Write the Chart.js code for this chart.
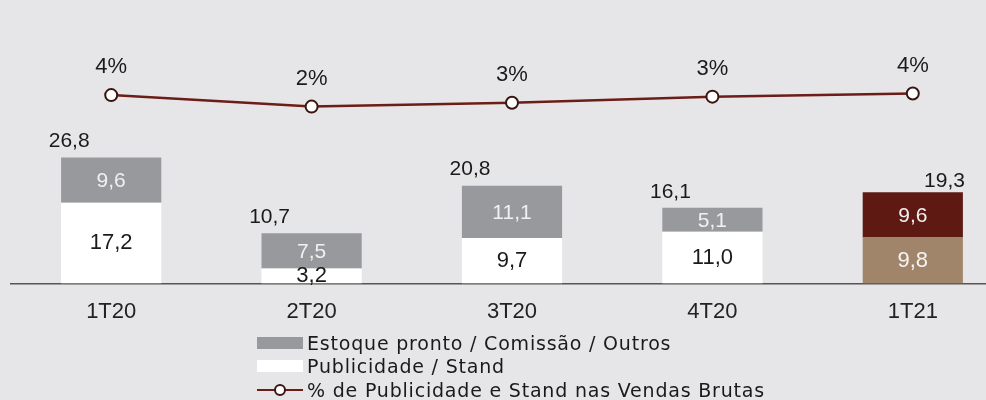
<!DOCTYPE html>
<html>
<head>
<meta charset="utf-8">
<script src="https://cdn.jsdelivr.net/npm/chart.js@4.4.0/dist/chart.umd.min.js"></script>
<style>
  html, body { margin: 0; padding: 0; background: #e6e6e8; overflow: hidden; width: 986px; height: 400px; }
  #wrap { position: absolute; left: 0; top: 0; width: 1024px; height: 337px; }
  #legend { position: absolute; left: 257px; top: 331px; font-family: "DejaVu Sans"; font-size: 19px; letter-spacing: 0.8px; color: #1a1a1a; }
  .row { height: 23.5px; display: flex; align-items: center; white-space: nowrap; }
  .swatch { width: 46px; height: 12px; margin-right: 4px; position: relative; flex: none; }
  .swatch.line::before { content: ''; position: absolute; left: 0; right: 0; top: 5px; height: 2px; background: #6b1d17; }
  .swatch.line::after { content: ''; position: absolute; left: 17px; top: 0; width: 8px; height: 8px; border: 2px solid #3a1410; border-radius: 50%; background: #fff; }
</style>
</head>
<body>
<div id="wrap"><canvas id="chart"></canvas></div>
<div id="legend"></div>
<script>
// Données
const categories = ['1T20', '2T20', '3T20', '4T20', '1T21'];
const publicidade = [17.2, 3.2, 9.7, 11.0, 9.8];
const estoque = [9.6, 7.5, 11.1, 5.1, 9.6];
const totais = [26.8, 10.7, 20.8, 16.1, 19.3];
const pctVendas = [3.6, 2.1, 2.6, 3.4, 3.8];
const nomes = ['Estoque pronto / Comissão / Outros', 'Publicidade / Stand', '% de Publicidade e Stand nas Vendas Brutas'];

// Couleurs
const cinza = '#98999d';
const branco = '#ffffff';
const corPub = [branco, branco, branco, branco, '#a0856a'];
const corEst = [cinza, cinza, cinza, cinza, '#5e1912'];
const corLinha = '#6b1d17';
const fonte = 'Liberation Sans';

const fmt = v => v.toFixed(1).replace('.', ',');

// Étiquettes des barres et de la ligne
const labelsPlugin = {
    id: 'labels',
    afterDatasetsDraw(chart) {
        const ctx = chart.ctx;
        const pub = chart.getDatasetMeta(0).data;
        const est = chart.getDatasetMeta(1).data;
        const linha = chart.getDatasetMeta(2).data;
        ctx.save();
        ctx.textBaseline = 'middle';
        ctx.textAlign = 'center';
        categories.forEach((c, i) => {
            const last = i === categories.length - 1;
            // segment inférieur
            ctx.font = '22px "' + fonte + '"';
            ctx.fillStyle = last ? '#f4f4f4' : '#1a1a1a';
            const p = pub[i];
            ctx.fillText(fmt(publicidade[i]), p.x, (p.y + p.base) / 2);
            // segment supérieur
            ctx.font = '21px "' + fonte + '"';
            ctx.fillStyle = '#f0f0f0';
            const e = est[i];
            ctx.fillText(fmt(estoque[i]), e.x, (e.y + e.base) / 2 + 1);
            // total
            ctx.font = '21px "' + fonte + '"';
            ctx.fillStyle = '#1a1a1a';
            if (last) {
                ctx.textAlign = 'right';
                ctx.fillText(fmt(totais[i]), e.x + e.width / 2 + 2, e.y - 11);
                ctx.textAlign = 'center';
            } else {
                ctx.fillText(fmt(totais[i]), e.x - 42, e.y - 16);
            }
            // pourcentage
            ctx.font = '22px "' + fonte + '"';
            const l = linha[i];
            ctx.fillText(pctVendas[i].toFixed(0) + '%', l.x, l.y - 28);
        });
        ctx.restore();
    }
};

new Chart(document.getElementById('chart'), {
    type: 'bar',
    data: {
        labels: categories,
        datasets: [
            { label: nomes[1], data: publicidade, backgroundColor: corPub, order: 1 },
            { label: nomes[0], data: estoque, backgroundColor: corEst, order: 1 },
            {
                type: 'line', label: nomes[2], data: pctVendas, yAxisID: 'y2', order: 0,
                borderColor: corLinha, borderWidth: 2.5, clip: false,
                pointRadius: 6, pointBackgroundColor: '#ffffff', pointBorderColor: '#3a1410', pointBorderWidth: 2
            }
        ]
    },
    options: {
        responsive: true,
        maintainAspectRatio: false,
        animation: false,
        categoryPercentage: 1,
        barPercentage: 0.5,
        layout: { padding: { left: 11, right: 11, top: 20, bottom: 5 } },
        plugins: { legend: { display: false }, tooltip: { enabled: false } },
        scales: {
            x: {
                stacked: true,
                offset: true,
                grid: { display: false },
                border: { display: true, color: '#555555', width: 1.5 },
                ticks: { font: { family: fonte, size: 22 }, color: '#222222', padding: 7 }
            },
            y: { stacked: true, display: false, min: 0, max: 56 },
            y2: { display: false, min: -21, max: 13.4 }
        }
    },
    plugins: [labelsPlugin]
});

// Légende HTML
const legend = document.getElementById('legend');
[[nomes[0], cinza], [nomes[1], branco], [nomes[2], null]].forEach(([nome, cor]) => {
    const row = document.createElement('div');
    row.className = 'row';
    const sw = document.createElement('span');
    sw.className = cor ? 'swatch' : 'swatch line';
    if (cor) sw.style.background = cor;
    const txt = document.createElement('span');
    txt.textContent = nome;
    row.appendChild(sw);
    row.appendChild(txt);
    legend.appendChild(row);
});
</script>
</body>
</html>
